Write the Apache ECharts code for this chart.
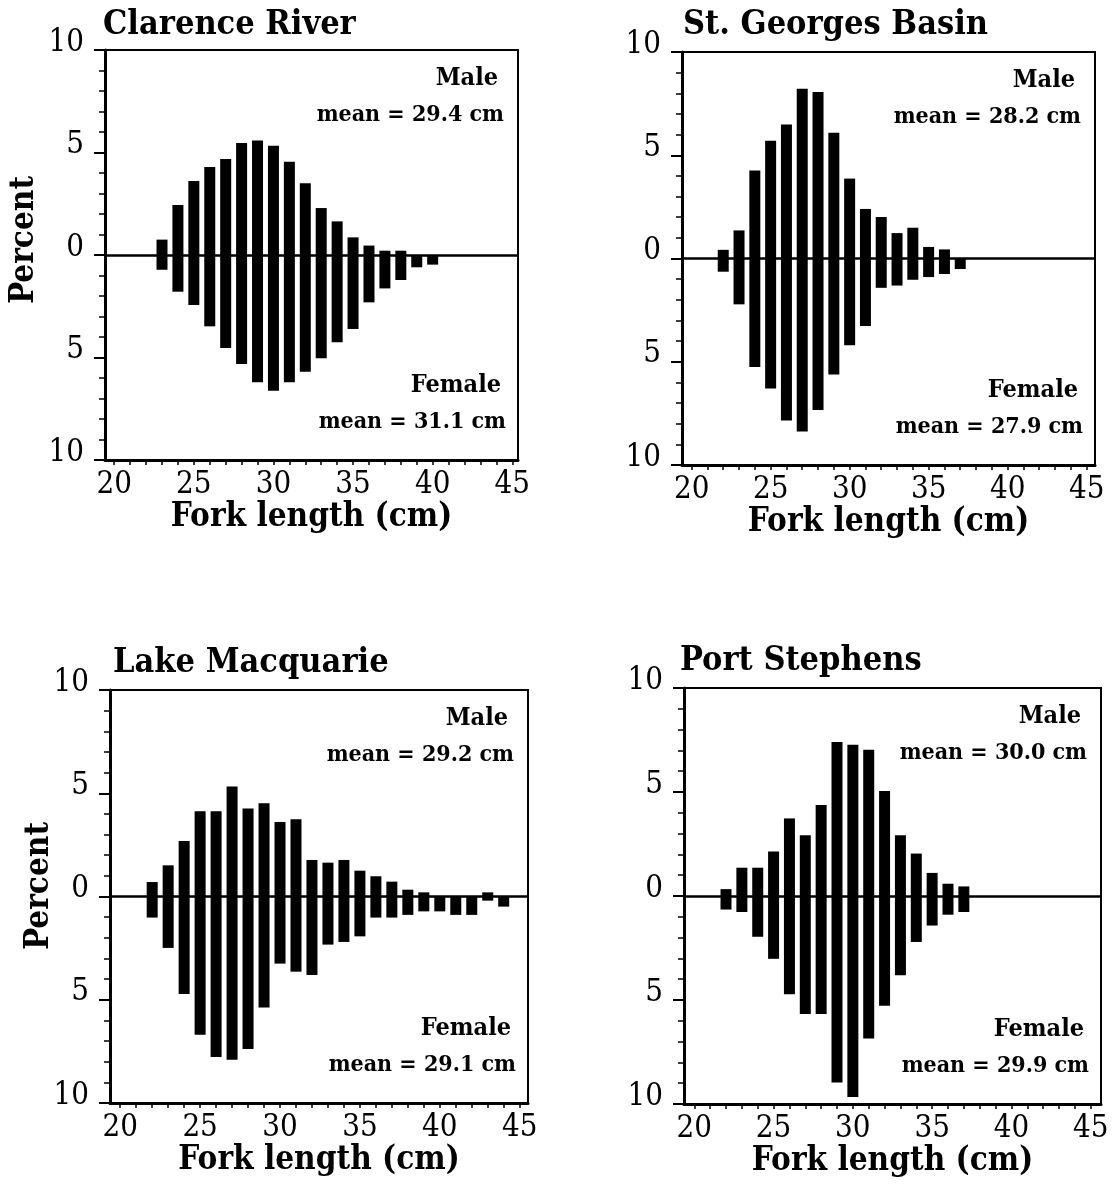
<!DOCTYPE html>
<html><head><meta charset="utf-8">
<script src="https://cdn.jsdelivr.net/npm/echarts@6/dist/echarts.min.js"></script>
<style>html,body{margin:0;padding:0;background:#fff}#c{width:1113px;height:1192px}</style>
</head><body><div id="c"></div>
<script>
// ---------- data (percent per 1-cm fork-length class) ----------
const clarenceLengths = [23,24,25,26,27,28,29,30,31,32,33,34,35,36,37,38,39,40];
const clarenceMale    = [0.75,2.44,3.61,4.29,4.68,5.46,5.59,5.33,4.55,3.50,2.29,1.64,0.86,0.46,0.21,0.21,0,0];
const clarenceFemale  = [0.72,1.79,2.44,3.48,4.54,5.32,6.21,6.62,6.21,5.69,5.04,4.26,3.61,2.31,1.63,1.22,0.60,0.47];

const georgesLengths = [22,23,24,25,26,27,28,29,30,31,32,33,34,35,36,37];
const georgesMale    = [0.42,1.36,4.26,5.70,6.49,8.22,8.06,6.09,3.87,2.40,2.01,1.23,1.49,0.56,0.44,0];
const georgesFemale  = [0.64,2.22,5.25,6.29,7.84,8.38,7.34,5.62,4.20,3.27,1.42,1.31,1.03,0.90,0.75,0.51];

const macquarieLengths = [22,23,24,25,26,27,28,29,30,31,32,33,34,35,36,37,38,39,40,41,42,43,44];
const macquarieMale    = [0.70,1.51,2.69,4.13,4.13,5.33,4.26,4.52,3.61,3.74,1.77,1.64,1.77,1.25,0.98,0.72,0.33,0.20,0,0,0,0.20,0];
const macquarieFemale  = [1.02,2.49,4.72,6.69,7.77,7.90,7.38,5.38,3.25,3.64,3.80,2.33,2.20,1.93,1.02,1.02,0.89,0.72,0.72,0.89,0.89,0.20,0.49];

const stephensLengths = [22,23,24,25,26,27,28,29,30,31,32,33,34,35,36,37];
const stephensMale    = [0.33,1.36,1.36,2.14,3.73,2.92,4.38,7.40,7.27,7.03,5.05,2.92,2.04,1.11,0.59,0.46];
const stephensFemale  = [0.65,0.77,1.96,3.02,4.72,5.67,5.67,8.97,9.66,6.85,5.28,3.81,2.21,1.42,0.90,0.77];

const titles = ['Clarence River','St. Georges Basin','Lake Macquarie','Port Stephens'];
const maleMeans = ['mean = 29.4 cm','mean = 28.2 cm','mean = 29.2 cm','mean = 30.0 cm'];
const femaleMeans = ['mean = 31.1 cm','mean = 27.9 cm','mean = 29.1 cm','mean = 29.9 cm'];
const xTickValues = [20,21,22,23,24,25,26,27,28,29,30,31,32,33,34,35,36,37,38,39,40,41,42,43,44,45];
const xLabelValues = [20,25,30,35,40,45];
const xTitle = 'Fork length (cm)';
const yTitle = 'Percent';
const sexLabels = ['Male','Female'];

// ---------- layout ----------
const dataSets = [
  [clarenceLengths, clarenceMale, clarenceFemale],
  [georgesLengths, georgesMale, georgesFemale],
  [macquarieLengths, macquarieMale, macquarieFemale],
  [stephensLengths, stephensMale, stephensFemale]
];
const layout = [
  {left:105, top:50,  width:413, height:410, xMin:19.42, xMax:45.36, tx:103, ty:25.5, py:240, px:24.5},
  {left:682, top:52,  width:413, height:413, xMin:19.39, xMax:45.53, tx:683, ty:25},
  {left:110, top:690, width:418, height:413, xMin:19.36, xMax:45.52, tx:113, ty:663.5, py:886, px:39},
  {left:684, top:688, width:417, height:416, xMin:19.35, xMax:45.65, tx:680, ty:661.5}
];
const FF = "'DejaVu Serif Condensed', 'DejaVu Serif', serif";

const grids = [], xAxes = [], yAxes = [], series = [], graphics = [];
layout.forEach((L, i) => {
  const [lens, male, female] = dataSets[i];
  grids.push({left:L.left, top:L.top, width:L.width, height:L.height, show:true,
    borderColor:'#000', borderWidth:2, backgroundColor:'transparent'});
  xAxes.push({type:'value', gridIndex:i, min:L.xMin, max:L.xMax,
    axisLine:{show:true, onZero:false, lineStyle:{color:'#000', width:3}},
    axisTick:{show:true, customValues:xTickValues, length:5, lineStyle:{color:'#000', width:1.5}},
    axisLabel:{show:true, customValues:xLabelValues, margin:9, color:'#000', fontFamily:FF, fontSize:31},
    splitLine:{show:false},
    name:xTitle, nameLocation:'middle', nameGap:34,
    nameTextStyle:{color:'#000', fontFamily:FF, fontSize:33, fontWeight:'bold'}});
  yAxes.push({type:'value', gridIndex:i, min:-10, max:10, interval:5,
    axisLine:{show:true, onZero:false, lineStyle:{color:'#000', width:3}},
    axisTick:{show:true, length:11, lineStyle:{color:'#000', width:2}},
    minorTick:{show:true, splitNumber:5, length:6, lineStyle:{color:'#000', width:1.5}},
    axisLabel:{show:true, margin:21, color:'#000', fontFamily:FF, fontSize:31,
      verticalAlign:'bottom', lineHeight:31, padding:[0,0,-8,0], formatter: v => String(Math.abs(v))},
    splitLine:{show:false}, minorSplitLine:{show:false}});
  series.push({type:'bar', name:sexLabels[0], xAxisIndex:i, yAxisIndex:i, stack:'s'+i,
    barWidth:11, itemStyle:{color:'#000'},
    data: lens.map((x,k) => [x, male[k]]),
    markLine:{silent:true, symbol:['none','none'], label:{show:false},
      lineStyle:{color:'#000', width:2.5, type:'solid'}, data:[{yAxis:0}]}});
  series.push({type:'bar', name:sexLabels[1], xAxisIndex:i, yAxisIndex:i, stack:'s'+i,
    barWidth:11, itemStyle:{color:'#000'},
    data: lens.map((x,k) => [x, -female[k]])});

  const R = L.left + L.width, B = L.top + L.height;
  const txt = (x, y, text, size, weight, align, rot) => graphics.push({type:'text', x, y, rotation:rot||0,
    style:{text, fill:'#000', fontFamily:FF, fontSize:size, fontWeight:weight, align, verticalAlign:'middle'}});
  txt(L.tx, L.ty, titles[i], 34, 'bold', 'left');
  txt(R-20, L.top+28, sexLabels[0], 25, 'bold', 'right');
  txt(R-14, L.top+65, maleMeans[i], 23, 'bold', 'right');
  txt(R-17, B-75, sexLabels[1], 25, 'bold', 'right');
  txt(R-12, B-38, femaleMeans[i], 23, 'bold', 'right');
  if (L.py) txt(L.px, L.py, yTitle, 33, 'bold', 'center', Math.PI/2);
});

const chart = echarts.init(document.getElementById('c'), null, {renderer:'canvas'});
chart.setOption({animation:false, backgroundColor:'#fff',
  grid:grids, xAxis:xAxes, yAxis:yAxes, series:series, graphic:graphics});
</script></body></html>
